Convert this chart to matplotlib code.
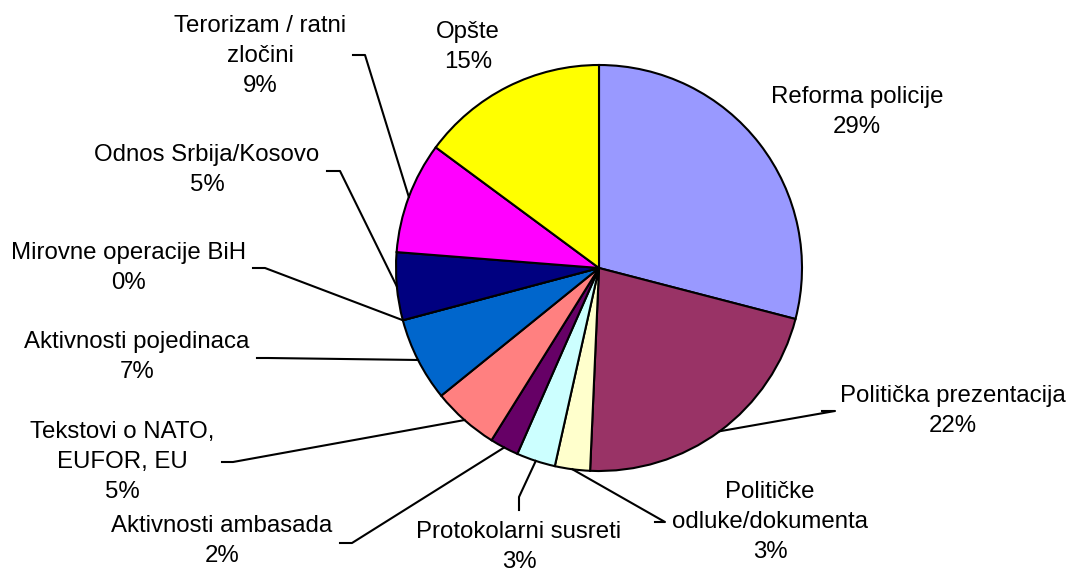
import numpy as np
import matplotlib
matplotlib.use('Agg')
import matplotlib.pyplot as plt

# Podaci (udio tema, %)
teme = ['Reforma policije', 'Politička prezentacija', 'Političke\nodluke/dokumenta',
        'Protokolarni susreti', 'Aktivnosti ambasada', 'Tekstovi o NATO,\nEUFOR, EU',
        'Aktivnosti pojedinaca', 'Mirovne operacije BiH', 'Odnos Srbija/Kosovo',
        'Terorizam / ratni\nzločini', 'Opšte']
udio = [29.1, 21.7, 2.8, 3.1, 2.3, 5.3, 6.7, 0.0, 5.4, 8.9, 14.9]
boje = ['#9999FF', '#993366', '#FFFFCC', '#CCFFFF', '#660066', '#FF8080',
        '#0066CC', '#CCCCFF', '#000080', '#FF00FF', '#FFFF00']

# Položaji natpisa (piksel, y od vrha) i početak linije do isječka
natpis_xy = [(857, 112), (953, 411), (770, 522), (519, 547), (222, 541),
             (122, 462), (137, 357), (129, 268), (207, 170), (260, 56), (468, 47)]
linija = [None, [(822, 411), (835, 411)], [(655, 522), (665, 522)],
          [(519, 510), (519, 497)], [(340, 543), (352, 543)],
          [(222, 462), (233, 462)], [(257, 358), (268, 358)],
          [(253, 268), (265, 268)], [(327, 171), (340, 171)],
          [(353, 55), (365, 55)], None]

plt.rcParams['font.family'] = ['Liberation Sans', 'DejaVu Sans']

fig = plt.figure(figsize=(10.73, 5.69), dpi=100)
ax = fig.add_axes([0, 0, 1, 1])

cx, cy, r = 599, 268, 203
# os y je okrenuta, pa counterclock=True daje smjer kazaljke na ekranu
wedges, _ = ax.pie(udio, colors=boje, startangle=-90, counterclock=True,
                   center=(cx, cy), radius=r, frame=True,
                   wedgeprops=dict(edgecolor='black', linewidth=1.5))
ax.set_xlim(0, 1073)
ax.set_ylim(569, 0)
ax.set_aspect('equal')
ax.axis('off')

for i, w in enumerate(wedges):
    pct = f'{round(udio[i])}%'
    tx, ty = natpis_xy[i]
    ax.text(tx, ty, teme[i] + '\n' + pct, ha='center', va='center',
            fontsize=17.3, linespacing=1.45)
    if linija[i] is not None:
        ang = np.deg2rad((w.theta1 + w.theta2) / 2)
        px, py = cx + r * np.cos(ang), cy + r * np.sin(ang)
        pts = linija[i] + [(px, py)]
        ax.plot([p[0] for p in pts], [p[1] for p in pts], color='black', lw=1.5)

fig.savefig('out.png', dpi=100)
